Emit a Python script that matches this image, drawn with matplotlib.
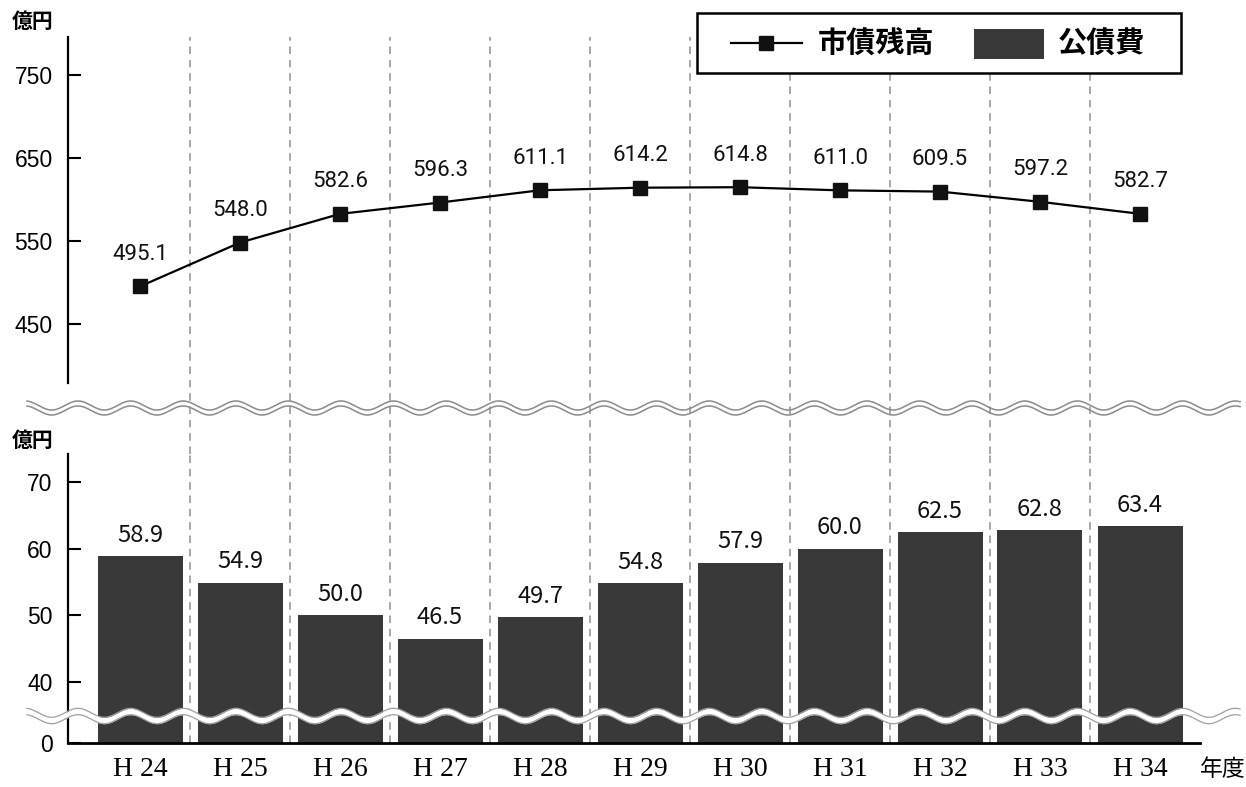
import matplotlib
matplotlib.use("Agg")
import matplotlib.pyplot as plt
from matplotlib.patches import Rectangle
from matplotlib.lines import Line2D
import numpy as np

plt.rcParams['font.family'] = ['Liberation Sans', 'Noto Sans CJK JP', 'DejaVu Sans']

# fiscal years and series
years = ['H 24', 'H 25', 'H 26', 'H 27', 'H 28', 'H 29', 'H 30', 'H 31', 'H 32', 'H 33', 'H 34']
debt_balance = [495.1, 548.0, 582.6, 596.3, 611.1, 614.2, 614.8, 611.0, 609.5, 597.2, 582.7]
debt_service = [58.9, 54.9, 50.0, 46.5, 49.7, 54.8, 57.9, 60.0, 62.5, 62.8, 63.4]
top_ticks = [450, 550, 650, 750]
bottom_ticks = [40, 50, 60, 70]

W, H = 1246, 787
BAR_COLOR = '#393939'
GRID_COLOR = '#9a9a9a'

fig = plt.figure(figsize=(W / 100, H / 100), dpi=100)


def px_box(left, top, right, bottom):
    return [left / W, 1 - bottom / H, (right - left) / W, (bottom - top) / H]


ax_top = fig.add_axes(px_box(68, 37, 1200, 383))
ax_bot = fig.add_axes(px_box(68, 454, 1200, 743))

x = np.arange(len(years))

# ---- upper panel: outstanding debt ----
ax_top.plot(x, debt_balance, color='black', lw=1.6, marker='s', markersize=10.5,
            markerfacecolor='#111111', markeredgecolor='#111111', zorder=3)
for xi, v in zip(x, debt_balance):
    ax_top.annotate(f'{v:.1f}', (xi, v), xytext=(0, 23), textcoords='offset points',
                    ha='center', va='center', fontsize=16, family='Roboto', color='#111111')
ax_top.set_ylim(378.6, 796)
ax_top.set_yticks(top_ticks)
ax_top.set_xticks([])

# ---- lower panel: debt service ----
ax_bot.bar(x, debt_service, width=0.85, color=BAR_COLOR, zorder=2)
for xi, v in zip(x, debt_service):
    ax_bot.annotate(f'{v:.1f}', (xi, v), xytext=(0, 15), textcoords='offset points',
                    ha='center', va='center', fontsize=17, family='Noto Sans CJK JP',
                    color='#111111')
y0 = 30.83
ax_bot.set_ylim(y0, 74.2)
ax_bot.set_yticks([y0] + bottom_ticks)
ax_bot.set_yticklabels(['0'] + [str(t) for t in bottom_ticks])
ax_bot.set_xticks(x)
ax_bot.set_xticklabels(years, family='Liberation Serif', fontsize=20)
ax_bot.tick_params(axis='x', length=0, pad=10)

for ax in (ax_top, ax_bot):
    ax.set_xlim(-0.72, 10.6)
    for side in ('top', 'right'):
        ax.spines[side].set_visible(False)
    ax.spines['left'].set_linewidth(1.6)
    ax.tick_params(axis='y', direction='in', length=9.5, width=1.5, pad=11, labelsize=16.5)
    ax.patch.set_visible(False)
ax_top.spines['bottom'].set_visible(False)
ax_bot.spines['bottom'].set_linewidth(2)
ax_bot.spines['bottom'].set_zorder(4)

# dashed separators between years, running through both panels
for b in x[:-1] + 0.5:
    ax_top.axvline(b, ymin=-71 / 346, ymax=1, color=GRID_COLOR, lw=1.2,
                   ls=(0, (4.5, 3.5)), clip_on=False, zorder=1)
    ax_bot.axvline(b, color=GRID_COLOR, lw=1.2, ls=(0, (4.5, 3.5)), zorder=1)

# ---- overlay in pixel coordinates: axis breaks, units, legend ----
ov = fig.add_axes([0, 0, 1, 1], zorder=5)
ov.set_xlim(0, W)
ov.set_ylim(H, 0)
ov.axis('off')

wx = np.linspace(27, 1240, 800)
phase = np.cos(2 * np.pi * (wx - 78) / 52.6)

# break between the panels
for yc in (405.5, 410.5):
    ov.plot(wx, yc - 4.5 * phase, color='#8a8a8a', lw=1.1)

# break across the bars
yc = 716
ov.fill_between(wx, yc - 3.2 - 4.5 * phase, yc + 3.2 - 4.5 * phase, color='white', lw=0)
for off in (-3.2, 3.2):
    ov.plot(wx, yc + off - 4.5 * phase, color='#a0a0a0', lw=0.9)

# unit labels
ov.text(33, 21, '億円', ha='center', va='center', fontsize=15, weight='bold',
        family='Noto Sans CJK JP')
ov.text(33, 440, '億円', ha='center', va='center', fontsize=15, weight='bold',
        family='Noto Sans CJK JP')
ov.text(1223, 769, '年度', ha='center', va='center', fontsize=16.5,
        family='Noto Sans CJK JP')

# legend
ov.add_patch(Rectangle((697, 13), 484, 60, facecolor='white', edgecolor='black', lw=1.8))
ov.add_line(Line2D([731, 802], [43, 43], color='black', lw=1.6))
ov.plot([766], [43], marker='s', markersize=10.5, color='#111111')
ov.text(818, 44, '市債残高', ha='left', va='center', fontsize=21, weight='bold',
        family='Noto Sans CJK JP')
ov.add_patch(Rectangle((974, 29), 70, 30, facecolor=BAR_COLOR, edgecolor='none'))
ov.text(1058, 44, '公債費', ha='left', va='center', fontsize=21, weight='bold',
        family='Noto Sans CJK JP')

fig.savefig('out.png', dpi=100)
